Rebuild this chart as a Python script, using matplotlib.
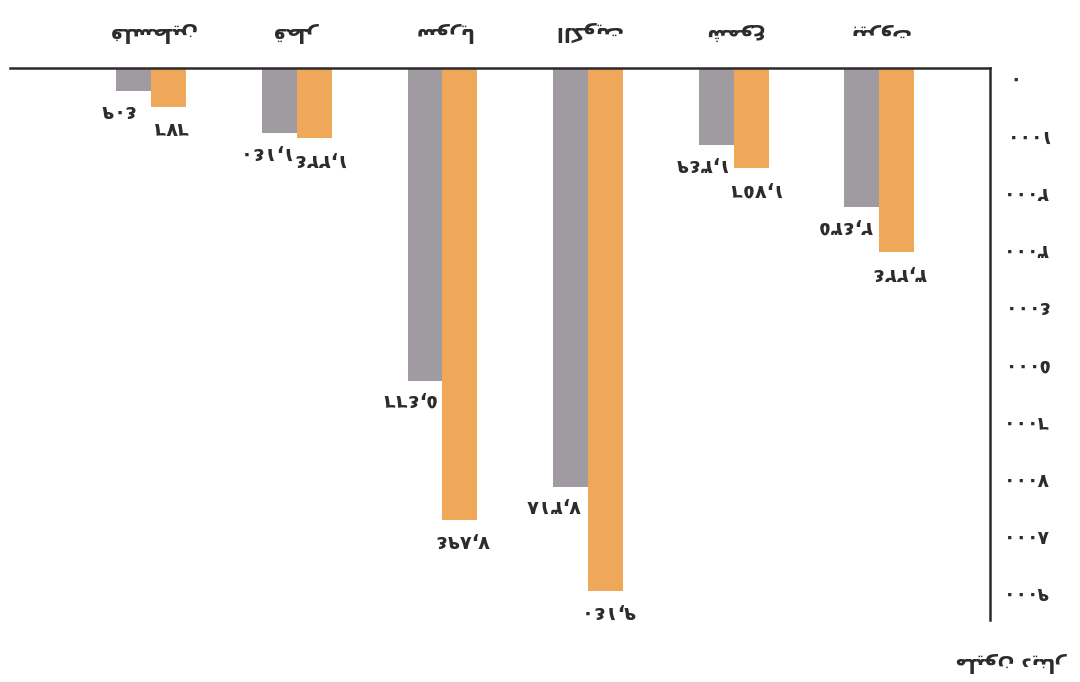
import matplotlib
matplotlib.use("Agg")
import matplotlib.pyplot as plt
import matplotlib.transforms as mtransforms
import numpy as np

# the chart is printed upside down; values are listed as it reads turned upright
categories = ["بيروت", "شموع", "الكويت", "سوريا", "قطر", "فلسطين"]
gray_vals = [2435, 1349, 7318, 5466, 1140, 409]
orange_vals = [3224, 1756, 9140, 7894, 1224, 676]
y_ticks = [0, 1000, 2000, 3000, 4000, 5000, 6000, 7000, 8000, 9000]
y_title = "مليون دينار"

GRAY = "#a09ba1"
ORANGE = "#efa75a"
INK = "#2b2b2b"

# matplotlib does no arabic shaping, so pick the joined forms by hand
FORMS = {
    "ا": ("\ufe8d", "\ufe8e", None, None),
    "ب": ("\ufe8f", "\ufe90", "\ufe91", "\ufe92"),
    "ت": ("\ufe95", "\ufe96", "\ufe97", "\ufe98"),
    "د": ("\ufea9", "\ufeaa", None, None),
    "ر": ("\ufead", "\ufeae", None, None),
    "س": ("\ufeb1", "\ufeb2", "\ufeb3", "\ufeb4"),
    "ش": ("\ufeb5", "\ufeb6", "\ufeb7", "\ufeb8"),
    "ط": ("\ufec1", "\ufec2", "\ufec3", "\ufec4"),
    "ع": ("\ufec9", "\ufeca", "\ufecb", "\ufecc"),
    "ف": ("\ufed1", "\ufed2", "\ufed3", "\ufed4"),
    "ق": ("\ufed5", "\ufed6", "\ufed7", "\ufed8"),
    "ك": ("\ufed9", "\ufeda", "\ufedb", "\ufedc"),
    "ل": ("\ufedd", "\ufede", "\ufedf", "\ufee0"),
    "م": ("\ufee1", "\ufee2", "\ufee3", "\ufee4"),
    "ن": ("\ufee5", "\ufee6", "\ufee7", "\ufee8"),
    "و": ("\ufeed", "\ufeee", None, None),
    "ي": ("\ufef1", "\ufef2", "\ufef3", "\ufef4"),
}
DIGITS = str.maketrans("0123456789", "٠١٢٣٤٥٦٧٨٩")


def ar(text):
    out = []
    for i, ch in enumerate(text):
        if ch not in FORMS:
            out.append(ch)
            continue
        iso, fin, ini, med = FORMS[ch]
        prev = i > 0 and text[i - 1] in FORMS and FORMS[text[i - 1]][2] is not None
        nxt = i < len(text) - 1 and text[i + 1] in FORMS and ini is not None
        if prev and nxt:
            out.append(med)
        elif prev:
            out.append(fin)
        elif nxt:
            out.append(ini)
        else:
            out.append(iso)
    return "".join(out)[::-1]


def num(v, sep=True):
    s = f"{v:,}" if sep else str(v)
    return s.translate(DIGITS)


plt.rcParams["font.family"] = ["DejaVu Sans"]

fig = plt.figure(figsize=(10.8, 6.82), dpi=100)
ax = fig.add_axes([10 / 1080, 62 / 682, 980 / 1080, 552 / 682])

x = np.arange(len(categories))
w = 0.24
ax.bar(x + w / 2, gray_vals, w, color=GRAY)
ax.bar(x - w / 2, orange_vals, w, color=ORANGE)

# turned half round: zero at the top, first category at the right
ax.set_xlim(5.97, -0.76)
ax.set_ylim(9650, 0)

for side in ["left", "bottom"]:
    ax.spines[side].set_visible(False)
for side in ["top", "right"]:
    ax.spines[side].set_color(INK)
    ax.spines[side].set_linewidth(1.8)

ax.yaxis.tick_right()
ax.set_yticks(y_ticks, [num(t, sep=False) for t in y_ticks])
ax.tick_params(axis="y", length=0, pad=9, labelsize=13.5, colors=INK)
shift = mtransforms.ScaledTranslation(0, -0.10, fig.dpi_scale_trans)
for lbl in ax.get_yticklabels():
    lbl.set_rotation(180)
    lbl.set_va("center")
    lbl.set_fontweight("bold")
    lbl.set_transform(lbl.get_transform() + shift)

ax.xaxis.tick_top()
ax.set_xticks(x, [ar(c) for c in categories])
ax.tick_params(axis="x", length=0, pad=19, labelsize=14.5, colors=INK)
for lbl in ax.get_xticklabels():
    lbl.set_rotation(180)
    lbl.set_fontweight("bold")

for xi, v in zip(x + w / 2, gray_vals):
    ax.annotate(num(v), (xi, v), xytext=(-17, -19), textcoords="offset pixels",
                ha="center", va="center", rotation=180, fontsize=14,
                fontweight="bold", color=INK)
for xi, v in zip(x - w / 2, orange_vals):
    ax.annotate(num(v), (xi, v), xytext=(2, -21), textcoords="offset pixels",
                ha="center", va="center", rotation=180, fontsize=14,
                fontweight="bold", color=INK)

fig.text(1012 / 1080, 1 - 662 / 682, ar(y_title), rotation=180,
         ha="center", va="center", fontsize=14.5, fontweight="bold", color=INK)

fig.savefig("out.png", dpi=100)
